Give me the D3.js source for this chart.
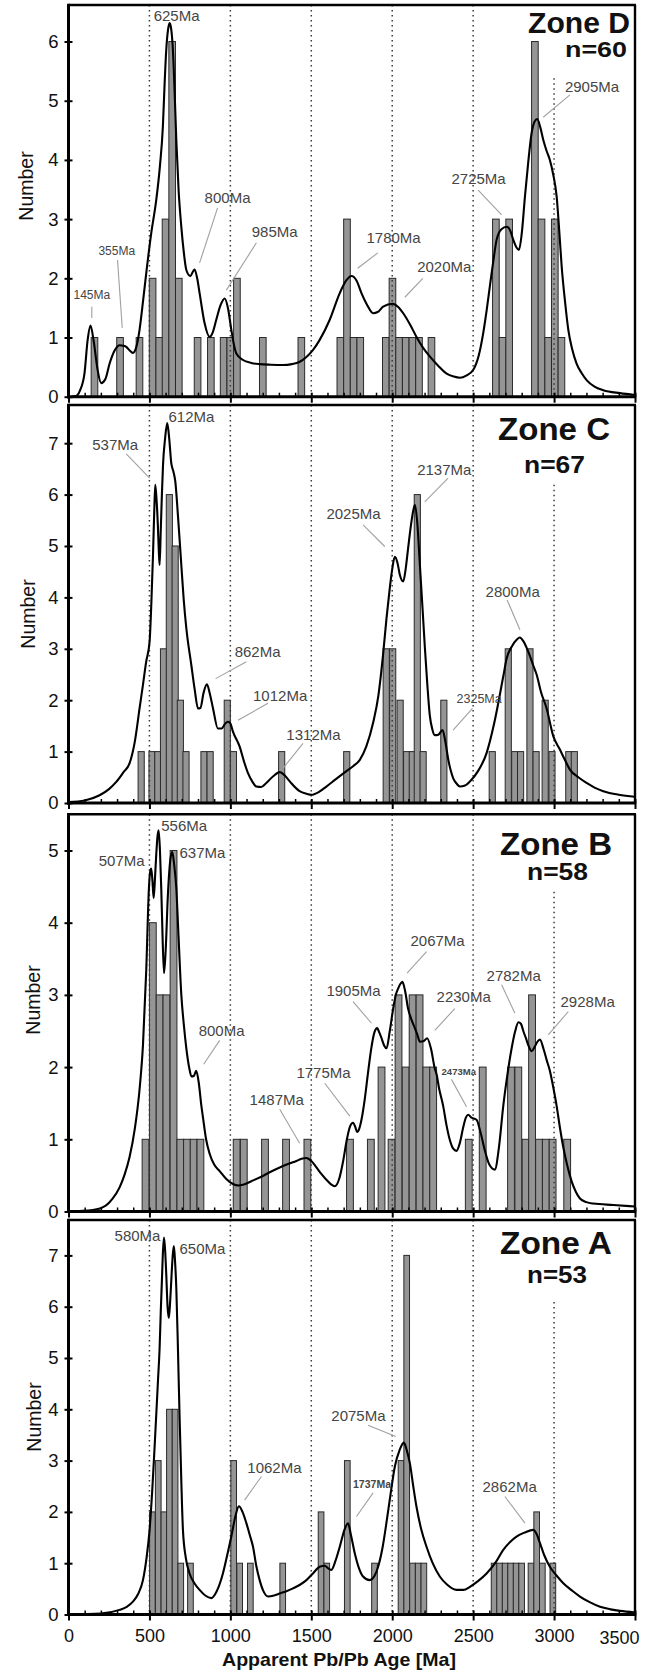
<!DOCTYPE html>
<html>
<head>
<meta charset="utf-8">
<script src="https://cdn.jsdelivr.net/npm/d3@7"></script>
<style>
  body { margin: 0; background: #fff; }
  svg { display: block; }
  text { font-family: "Liberation Sans", Arial, sans-serif; }
</style>
</head>
<body>
<svg id="chart" width="656" height="1676"></svg>
<script>
// ---------------- DATA ----------------
const xTickValues = [0, 500, 1000, 1500, 2000, 2500, 3000, 3500];
const dottedAges = [500, 1000, 1500, 2000, 2500, 3000];

const zoneNames = ["Zone D", "Zone C", "Zone B", "Zone A"];
const zoneCounts = ["n=60", "n=67", "n=58", "n=53"];
const yDomainMax = [6.617, 7.743, 5.501, 7.69];
const yTickMax = [6, 7, 5, 7];
const binWidths = [41, 38, 42, 35];
// value at which the 3000 Ma dotted line starts (below the zone title)
const dot3000Start = [5.38, 6.19, 4.43, 6.09];

// histogram bars: [bin start age (Ma), count]
const barsD = [[140,1],[298,1],[418,1],[499,2],[540,1],[579,3],[620,6],[661,2],[777,1],[859,1],[938,1],[979,1],[1020,2],[1180,1],[1418,1],[1659,1],[1700,3],[1741,1],[1782,1],[1940,1],[1981,2],[2022,1],[2063,1],[2104,1],[2145,1],[2222,1],[2620,3],[2661,1],[2702,3],[2861,6],[2902,3],[2943,1],[2984,3],[3025,1]];
const barsC = [[430,1],[497,1],[533,1],[568,3],[604,6],[640,5],[672,2],[707,1],[818,1],[856,1],[962,2],[1000,1],[1298,1],[1700,1],[1944,3],[1984,3],[2030,2],[2070,1],[2105,1],[2136,6],[2172,1],[2300,2],[2599,1],[2698,3],[2738,1],[2774,1],[2832,3],[2870,1],[2926,2],[2968,1],[3072,1],[3106,1]];
const barsB = [[455,1],[500,4],[542,3],[584,3],[628,5],[670,1],[711,1],[752,1],[794,1],[1018,1],[1062,1],[1193,1],[1323,1],[1455,1],[1718,1],[1847,1],[1913,2],[1975,1],[2018,3],[2062,2],[2105,3],[2148,3],[2190,2],[2232,2],[2452,1],[2538,2],[2713,2],[2758,2],[2803,1],[2843,3],[2886,1],[2928,1],[2970,1],[3060,1]];
const barsA = [[501,2],[537,3],[572,2],[606,4],[641,4],[676,1],[736,1],[1003,3],[1040,1],[1106,1],[1306,1],[1543,2],[1578,1],[1705,3],[1873,1],[2037,3],[2072,7],[2108,1],[2143,1],[2178,1],[2612,1],[2646,1],[2680,1],[2714,1],[2748,1],[2782,1],[2840,1],[2875,2],[2910,1],[2975,1]];

// probability density curves: [age (Ma), value]
const curveD = [[20,0],[45,0.01],[70,0.1],[99,0.4],[118,0.95],[136,1.2],[155,0.95],[180,0.45],[202,0.23],[228,0.3],[254,0.56],[285,0.78],[316,0.87],[340,0.86],[357,0.84],[378,0.78],[398,0.74],[420,0.85],[439,1.13],[460,1.6],[480,2.08],[511,2.76],[542,3.32],[565,3.9],[583,4.56],[594,5.3],[604,5.86],[615,6.2],[625,6.31],[635,6.2],[645,5.86],[655,5.2],[666,4.34],[680,3.5],[697,2.87],[712,2.45],[728,2.14],[752,2.04],[779,2.15],[795,2.0],[810,1.75],[841,1.24],[872,1.01],[893,1.1],[913,1.3],[940,1.55],[965,1.66],[985,1.5],[1006,1.13],[1022,0.88],[1037,0.73],[1078,0.62],[1130,0.57],[1181,0.55],[1250,0.54],[1325,0.535],[1380,0.55],[1429,0.59],[1470,0.67],[1511,0.79],[1552,0.96],[1614,1.3],[1676,1.75],[1715,1.96],[1748,2.04],[1780,1.96],[1810,1.75],[1845,1.55],[1882,1.41],[1910,1.43],[1944,1.52],[2002,1.57],[2035,1.52],[2068,1.41],[2110,1.22],[2150,1.01],[2190,0.83],[2232,0.68],[2285,0.52],[2336,0.39],[2380,0.34],[2418,0.32],[2460,0.36],[2500,0.45],[2535,0.7],[2562,1.07],[2583,1.45],[2603,1.86],[2625,2.3],[2645,2.65],[2675,2.83],[2707,2.87],[2730,2.8],[2748,2.65],[2768,2.52],[2783,2.48],[2800,2.75],[2820,3.38],[2840,3.95],[2861,4.45],[2880,4.65],[2896,4.69],[2915,4.55],[2933,4.34],[2954,4.15],[2974,4.0],[2995,3.75],[3016,3.38],[3032,2.8],[3047,2.2],[3068,1.6],[3088,1.13],[3112,0.8],[3139,0.56],[3170,0.4],[3201,0.28],[3250,0.17],[3304,0.11],[3407,0.06],[3500,0.03]];
const curveC = [[0,0.02],[100,0.05],[192,0.15],[250,0.27],[295,0.41],[340,0.6],[377,0.77],[410,1.2],[439,1.84],[460,2.3],[480,2.75],[501,3.14],[512,3.9],[522,4.82],[530,5.7],[536,6.19],[544,5.9],[552,5.41],[558,4.9],[563,4.63],[570,5.3],[577,6.0],[584,6.58],[597,7.1],[610,7.39],[622,7.1],[635,6.61],[648,6.45],[660,6.25],[676,5.6],[697,4.63],[712,3.95],[728,3.4],[759,2.68],[780,2.2],[800,1.84],[815,1.85],[835,2.15],[855,2.31],[875,2.1],[893,1.84],[923,1.45],[945,1.45],[970,1.55],[985,1.58],[1000,1.55],[1016,1.39],[1057,1.1],[1085,0.8],[1109,0.58],[1135,0.42],[1161,0.32],[1190,0.31],[1222,0.39],[1265,0.52],[1305,0.6],[1335,0.54],[1367,0.42],[1428,0.23],[1470,0.18],[1501,0.16],[1550,0.22],[1593,0.32],[1650,0.46],[1717,0.62],[1760,0.72],[1800,0.84],[1840,1.1],[1882,1.56],[1915,2.1],[1944,2.9],[1965,3.6],[1985,4.18],[2000,4.55],[2016,4.79],[2032,4.68],[2047,4.44],[2068,4.31],[2083,4.55],[2098,4.95],[2120,5.5],[2140,5.8],[2155,5.45],[2171,4.63],[2187,3.8],[2202,3.01],[2217,2.3],[2232,1.71],[2248,1.43],[2263,1.32],[2285,1.33],[2311,1.42],[2328,1.2],[2346,0.85],[2360,0.65],[2377,0.48],[2397,0.38],[2418,0.32],[2450,0.34],[2480,0.42],[2530,0.62],[2583,0.97],[2630,1.55],[2686,2.46],[2707,2.81],[2740,3.05],[2770,3.18],[2789,3.22],[2810,3.15],[2840,2.95],[2871,2.68],[2892,2.5],[2920,2.15],[2954,1.84],[2995,1.3],[3036,1.04],[3065,0.85],[3098,0.65],[3150,0.5],[3201,0.39],[3250,0.3],[3304,0.23],[3400,0.16],[3500,0.12]];
const curveB = [[0,0],[150,0.02],[230,0.08],[270,0.17],[315,0.33],[345,0.5],[377,0.75],[410,1.15],[439,1.69],[460,2.3],[480,3.32],[497,4.48],[504,4.7],[511,4.75],[518,4.6],[526,4.34],[534,4.6],[542,4.94],[550,5.2],[557,5.28],[565,5.0],[573,4.48],[580,3.9],[590,3.3],[600,3.6],[614,4.38],[628,4.85],[641,4.98],[653,4.8],[666,4.48],[680,3.8],[697,3.0],[712,2.6],[728,2.26],[745,2.0],[760,1.87],[775,1.88],[789,1.95],[805,1.78],[820,1.48],[831,1.3],[850,1.0],[872,0.8],[900,0.65],[934,0.56],[975,0.45],[1016,0.38],[1050,0.36],[1078,0.37],[1130,0.42],[1181,0.47],[1240,0.54],[1305,0.61],[1360,0.66],[1408,0.7],[1440,0.73],[1470,0.74],[1500,0.7],[1532,0.61],[1562,0.52],[1593,0.44],[1620,0.38],[1645,0.35],[1672,0.45],[1697,0.7],[1720,1.0],[1738,1.17],[1758,1.23],[1772,1.17],[1783,1.1],[1797,1.15],[1810,1.27],[1830,1.55],[1851,1.93],[1870,2.25],[1890,2.48],[1907,2.54],[1920,2.48],[1934,2.4],[1950,2.3],[1965,2.26],[1985,2.5],[2006,2.81],[2022,3.0],[2037,3.09],[2050,3.15],[2063,3.18],[2080,3.05],[2098,2.81],[2120,2.65],[2140,2.54],[2155,2.45],[2171,2.35],[2195,2.36],[2216,2.4],[2240,2.25],[2263,1.98],[2274,1.9],[2290,1.7],[2315,1.46],[2335,1.2],[2356,0.99],[2377,0.87],[2397,0.84],[2418,0.95],[2439,1.17],[2455,1.3],[2469,1.34],[2490,1.3],[2521,1.27],[2545,1.1],[2573,0.84],[2600,0.65],[2634,0.58],[2660,0.9],[2686,1.46],[2712,1.9],[2737,2.25],[2760,2.5],[2780,2.62],[2795,2.6],[2810,2.5],[2826,2.4],[2845,2.28],[2861,2.22],[2880,2.28],[2900,2.36],[2913,2.38],[2935,2.25],[2954,2.1],[2974,1.95],[2995,1.72],[3016,1.46],[3037,1.15],[3057,0.89],[3080,0.65],[3108,0.42],[3135,0.27],[3160,0.18],[3200,0.13],[3242,0.11],[3366,0.09],[3500,0.07]];
const curveA = [[0,0],[200,0.02],[315,0.09],[360,0.15],[398,0.25],[430,0.4],[460,0.67],[482,1.1],[501,1.65],[517,2.4],[532,3.27],[553,4.57],[563,5.2],[570,5.9],[577,6.5],[584,7.1],[590,7.35],[597,7.1],[604,6.63],[612,6.0],[620,5.78],[628,6.1],[637,6.63],[644,7.0],[651,7.18],[658,6.9],[666,6.37],[676,5.2],[686,3.89],[697,2.6],[707,1.65],[725,1.1],[748,0.8],[780,0.6],[810,0.48],[845,0.37],[882,0.32],[915,0.45],[954,0.8],[980,1.15],[1006,1.52],[1030,1.9],[1053,2.11],[1075,2.0],[1099,1.78],[1120,1.55],[1140,1.32],[1160,0.95],[1181,0.67],[1205,0.45],[1233,0.35],[1270,0.37],[1305,0.41],[1350,0.46],[1387,0.51],[1430,0.58],[1470,0.67],[1510,0.8],[1552,0.93],[1583,0.95],[1605,0.9],[1624,0.87],[1650,1.05],[1676,1.32],[1705,1.65],[1727,1.78],[1745,1.55],[1769,1.19],[1795,0.9],[1820,0.74],[1861,0.67],[1890,0.75],[1913,0.93],[1940,1.3],[1964,1.78],[1990,2.35],[2016,2.88],[2045,3.2],[2072,3.35],[2090,3.2],[2109,2.95],[2130,2.5],[2150,2.1],[2180,1.65],[2212,1.32],[2250,1.0],[2294,0.74],[2340,0.58],[2397,0.48],[2440,0.48],[2480,0.54],[2530,0.65],[2583,0.8],[2640,1.02],[2686,1.26],[2730,1.42],[2768,1.52],[2820,1.6],[2871,1.65],[2895,1.55],[2913,1.39],[2940,1.15],[2974,0.93],[3015,0.76],[3057,0.61],[3110,0.47],[3160,0.35],[3220,0.24],[3284,0.15],[3350,0.1],[3407,0.07],[3500,0.04]];

// peak labels: [text, age of text start, value of baseline, font size, bold, leader [age1,val1,age2,val2] or null]
const labelsD = [
  ["145Ma",31,1.65,12,0,[144,1.52,144,1.33]],
  ["355Ma",185,2.39,12,0,[303,2.31,332,1.16]],
  ["625Ma",526,6.355,15,0,null],
  ["800Ma",841,3.28,15,0,[921,3.19,810,2.26]],
  ["985Ma",1132,2.70,15,0,[1161,2.60,975,1.80]],
  ["1780Ma",1841,2.60,15,0,[1911,2.43,1787,2.17]],
  ["2020Ma",2154,2.11,15,0,[2189,2.0,2078,1.68]],
  ["2725Ma",2366,3.59,15,0,[2531,3.49,2676,3.07]],
  ["2905Ma",3067,5.14,15,0,[3098,5.10,2933,4.72]]
];
const labelsC = [
  ["612Ma",618,7.41,15,0,null],
  ["537Ma",146.5,6.87,15,0,[357,6.79,501,6.32]],
  ["862Ma",1026.5,2.835,15,0,[1099,2.75,909,2.42]],
  ["1012Ma",1140,1.98,15,0,[1232,1.94,1047,1.61]],
  ["1312Ma",1346,1.23,15,0,[1449,1.16,1325,0.675]],
  ["2025Ma",1593.5,5.525,15,0,[1820,5.41,1954,4.99]],
  ["2137Ma",2154,6.39,15,0,[2345,6.32,2201,5.86]],
  ["2325Ma",2397.5,1.94,12.5,0,[2496,1.84,2376,1.42]],
  ["2800Ma",2577,4.01,15,0,[2710,3.95,2789,3.37]]
];
const labelsB = [
  ["556Ma",573,5.27,15,0,null],
  ["507Ma",187,4.78,15,0,null],
  ["637Ma",686,4.89,15,0,null],
  ["800Ma",804,2.43,15,0,[934,2.37,835,2.04]],
  ["1487Ma",1119,1.475,15,0,[1305,1.415,1428,0.945]],
  ["1775Ma",1408,1.845,15,0,[1583,1.776,1738,1.32]],
  ["1905Ma",1593.5,2.99,15,0,[1758,2.906,1872,2.607]],
  ["2067Ma",2113,3.68,15,0,[2212,3.60,2092,3.30]],
  ["2230Ma",2274,2.90,15,0,[2387,2.81,2263,2.51]],
  ["2473Ma",2305,1.89,9.5,1,[2366,1.83,2459,1.45]],
  ["2782Ma",2583,3.19,15,0,[2676,3.14,2758,2.745]],
  ["2928Ma",3040,2.83,15,0,[3088,2.77,2964,2.445]]
];
const labelsA = [
  ["580Ma",284.5,7.28,15,0,null],
  ["650Ma",686,7.02,15,0,null],
  ["1062Ma",1105,2.76,15,0,[1192,2.69,1088,2.23]],
  ["1737Ma",1758,2.46,10.5,1,[1882,2.37,1779,1.91]],
  ["2075Ma",1624,3.78,15,0,[1851,3.69,2022,3.47]],
  ["2862Ma",2558,2.39,15,0,[2696,2.30,2820,1.78]]
];

const yAxisTitle = "Number";
const xAxisTitle = "Apparent Pb/Pb Age [Ma]";

// ---------------- LAYOUT ----------------
const W = 656, H = 1676;
const LAYOUT = [
  {top:5,     bottom:396.7,  title:{x:630, y:33,   anchor:"end",    size:29, len:102}, n:{x:627,   y:57,   anchor:"end",    size:22, len:62}, ylab:{x:33, y:186}},
  {top:405,   bottom:803,    title:{x:554, y:440,  anchor:"middle", size:30.5, len:112}, n:{x:554.5, y:473,  anchor:"middle", size:23, len:61}, ylab:{x:35, y:614}},
  {top:814.3, bottom:1211.5, title:{x:556, y:855,  anchor:"middle", size:30.5, len:112}, n:{x:557.5, y:880,  anchor:"middle", size:23, len:61}, ylab:{x:40, y:1000}},
  {top:1220,  bottom:1614.5, title:{x:556, y:1254, anchor:"middle", size:30.5, len:112}, n:{x:557,   y:1283, anchor:"middle", size:23, len:60}, ylab:{x:41, y:1417}}
];

const panels = [
  {bars: barsD, curve: curveD, labels: labelsD},
  {bars: barsC, curve: curveC, labels: labelsC},
  {bars: barsB, curve: curveB, labels: labelsB},
  {bars: barsA, curve: curveA, labels: labelsA}
].map((p, i) => Object.assign(p, {
  name: zoneNames[i], count: zoneCounts[i], yMax: yDomainMax[i],
  yTicks: d3.range(0, yTickMax[i] + 1), bin: binWidths[i], dotStart: dot3000Start[i]
}));

// ---------------- DRAW ----------------
const svg = d3.select("#chart");
svg.append("rect").attr("width", W).attr("height", H).attr("fill", "#fff");

const x = d3.scaleLinear().domain([0, 3500]).range([68.5, 635]);
const minorTicks = d3.range(100, 3500, 100).filter(v => v % 500 !== 0);

panels.forEach((P, i) => {
  const L = LAYOUT[i];
  const y = d3.scaleLinear().domain([0, P.yMax]).range([L.bottom, L.top]);
  const g = svg.append("g");

  // bars
  g.append("g").selectAll("rect").data(P.bars).join("rect")
    .attr("x", d => x(d[0]))
    .attr("width", d => x(d[0] + P.bin) - x(d[0]))
    .attr("y", d => y(d[1]))
    .attr("height", d => y(0) - y(d[1]))
    .attr("fill", "#959595")
    .attr("stroke", "#2a2a2a")
    .attr("stroke-width", 1);

  // dotted reference lines
  g.append("g").selectAll("line").data(dottedAges).join("line")
    .attr("x1", d => x(d)).attr("x2", d => x(d))
    .attr("y1", d => d === 3000 ? y(P.dotStart) : L.top)
    .attr("y2", L.bottom)
    .attr("stroke", "#3a3a3a")
    .attr("stroke-width", 1.5)
    .attr("stroke-dasharray", "1.5,3.5");

  // density curve
  const line = d3.line().x(d => x(d[0])).y(d => y(d[1])).curve(d3.curveMonotoneX);
  g.append("path").datum(P.curve)
    .attr("d", line)
    .attr("fill", "none")
    .attr("stroke", "#000")
    .attr("stroke-width", 2.1)
    .attr("stroke-linejoin", "round");

  // leader lines
  g.append("g").selectAll("line").data(P.labels.filter(d => d[5])).join("line")
    .attr("x1", d => x(d[5][0])).attr("y1", d => y(d[5][1]))
    .attr("x2", d => x(d[5][2])).attr("y2", d => y(d[5][3]))
    .attr("stroke", "#a0a0a0")
    .attr("stroke-width", 1.1);

  // peak labels
  g.append("g").selectAll("text").data(P.labels).join("text")
    .attr("x", d => x(d[1]))
    .attr("y", d => y(d[2]))
    .attr("font-size", d => d[3])
    .attr("font-weight", d => d[4] ? "bold" : "normal")
    .attr("fill", "#454545")
    .text(d => d[0]);

  // frame: top and right border
  g.append("line").attr("x1", x(0)).attr("x2", x(3500) + 1)
    .attr("y1", L.top).attr("y2", L.top)
    .attr("stroke", "#000").attr("stroke-width", 2.6);
  g.append("line").attr("x1", x(3500)).attr("x2", x(3500))
    .attr("y1", L.top).attr("y2", L.bottom)
    .attr("stroke", "#000").attr("stroke-width", 2.4);

  // y axis
  const yAx = g.append("g").attr("transform", `translate(${x(0)},0)`)
    .call(d3.axisLeft(y).tickValues(P.yTicks).tickFormat(d3.format("d")).tickSize(4).tickPadding(8));
  yAx.select(".domain").remove();
  yAx.selectAll(".tick line").attr("x1", 4).attr("x2", -4).attr("stroke", "#000").attr("stroke-width", 2);
  yAx.selectAll(".tick text")
    .attr("font-family", "Liberation Sans, Arial, sans-serif")
    .attr("font-size", 18.5).attr("fill", "#111").attr("x", -10);
  g.append("line").attr("x1", x(0)).attr("x2", x(0))
    .attr("y1", L.top - 1.3).attr("y2", L.bottom + 1.5)
    .attr("stroke", "#000").attr("stroke-width", 3);

  // x axis: minor ticks (up), major ticks (crossing)
  const xMinor = g.append("g").attr("transform", `translate(0,${L.bottom})`)
    .call(d3.axisBottom(x).tickValues(minorTicks).tickSize(-4).tickFormat(""));
  xMinor.select(".domain").remove();
  xMinor.selectAll(".tick line").attr("stroke", "#000").attr("stroke-width", 1.5);

  const isLast = i === panels.length - 1;
  const xMajor = g.append("g").attr("transform", `translate(0,${L.bottom})`)
    .call(d3.axisBottom(x).tickValues(xTickValues).tickSize(6).tickPadding(12)
      .tickFormat(isLast ? d3.format("d") : ""));
  xMajor.select(".domain").remove();
  xMajor.selectAll(".tick line").attr("y1", -4).attr("y2", 6).attr("stroke", "#000").attr("stroke-width", 2);
  if (isLast) {
    xMajor.selectAll(".tick text")
      .attr("font-family", "Liberation Sans, Arial, sans-serif")
      .attr("font-size", 18).attr("fill", "#111")
      .attr("dy", null).attr("y", 27);
    xMajor.selectAll(".tick text").filter(d => d === 3500)
      .attr("text-anchor", "end").attr("x", 4).attr("y", 29.5);
  }
  g.append("line").attr("x1", x(0) - 1.5).attr("x2", x(3500) + 1.2)
    .attr("y1", L.bottom).attr("y2", L.bottom)
    .attr("stroke", "#000").attr("stroke-width", 3);

  // zone title + n
  g.append("text").attr("x", L.title.x).attr("y", L.title.y)
    .attr("text-anchor", L.title.anchor)
    .attr("font-size", L.title.size).attr("font-weight", "bold").attr("fill", "#111")
    .attr("textLength", L.title.len).attr("lengthAdjust", "spacingAndGlyphs")
    .text(P.name);
  g.append("text").attr("x", L.n.x).attr("y", L.n.y)
    .attr("text-anchor", L.n.anchor)
    .attr("font-size", L.n.size).attr("font-weight", "bold").attr("fill", "#111")
    .attr("textLength", L.n.len).attr("lengthAdjust", "spacingAndGlyphs")
    .text(P.count);

  // y axis title
  g.append("text")
    .attr("transform", `translate(${L.ylab.x},${L.ylab.y}) rotate(-90)`)
    .attr("text-anchor", "middle")
    .attr("font-size", 19.5).attr("fill", "#111")
    .text(yAxisTitle);
});

// x axis title
svg.append("text")
  .attr("x", 339).attr("y", 1666)
  .attr("text-anchor", "middle")
  .attr("font-size", 18.5).attr("font-weight", "bold").attr("fill", "#111")
  .attr("textLength", 234).attr("lengthAdjust", "spacingAndGlyphs")
  .text(xAxisTitle);
</script>
</body>
</html>
